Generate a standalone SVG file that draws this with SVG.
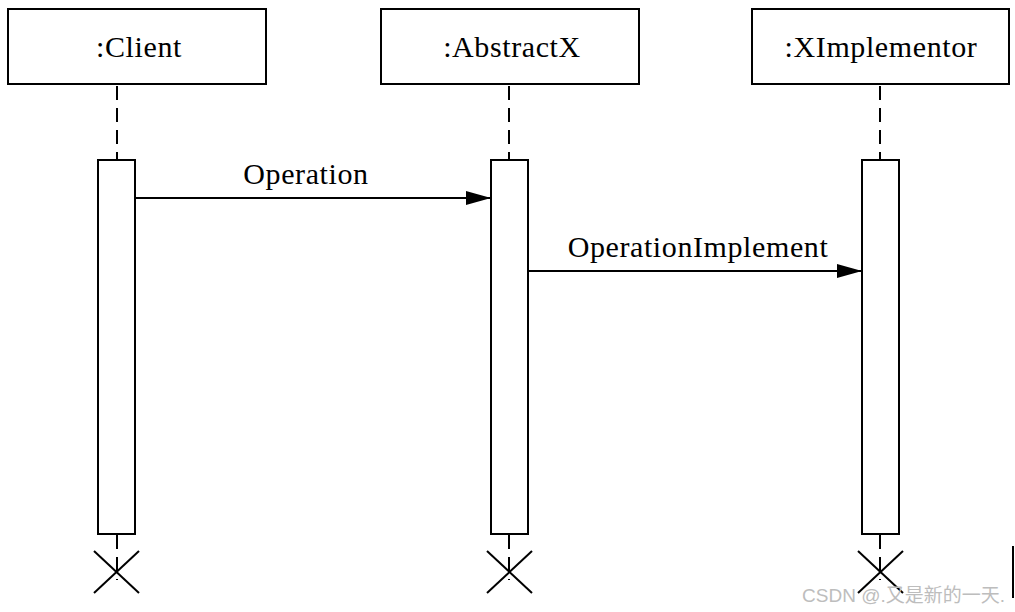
<svg xmlns="http://www.w3.org/2000/svg" width="1015" height="612" viewBox="0 0 1015 612">
<style>
.box{fill:#fff;stroke:#000;stroke-width:2}
.act{fill:#fff;stroke:#000;stroke-width:2}
.life{stroke:#000;stroke-width:2;stroke-dasharray:14 8;fill:none}
.msg{stroke:#000;stroke-width:2;fill:none;marker-end:url(#arr)}
.x{stroke:#000;stroke-width:2}
.t{font-family:"Liberation Serif","Times New Roman",serif;font-size:30px;letter-spacing:0.6px;fill:#000;text-anchor:middle}
</style>
<defs>
<marker id="arr" viewBox="0 0 25 14" refX="25" refY="7" markerWidth="25" markerHeight="14" markerUnits="userSpaceOnUse" orient="auto">
<path d="M0,0 L25,7 L0,14 Z" fill="#000"/>
</marker>
</defs>
<g id="client">
<rect class="box" x="8" y="9" width="258" height="75"/>
<text class="t" x="139" y="57">:Client</text>
<line class="life" x1="117" y1="86" x2="117" y2="160"/>
<line class="life" x1="117" y1="535" x2="117" y2="580"/>
<rect class="act" x="98" y="160" width="37" height="374"/>
<line class="x" x1="94" y1="551" x2="139" y2="593"/>
<line class="x" x1="139" y1="551" x2="94" y2="593"/>
</g>
<g id="abstractx">
<rect class="box" x="381" y="9" width="258" height="75"/>
<text class="t" x="512" y="57">:AbstractX</text>
<line class="life" x1="509" y1="86" x2="509" y2="160"/>
<line class="life" x1="509" y1="535" x2="509" y2="580"/>
<rect class="act" x="491" y="160" width="37" height="374"/>
<line class="x" x1="487" y1="551" x2="532" y2="593"/>
<line class="x" x1="532" y1="551" x2="487" y2="593"/>
</g>
<g id="ximplementor">
<rect class="box" x="752" y="9" width="257" height="75"/>
<text class="t" x="881" y="57">:XImplementor</text>
<line class="life" x1="880" y1="86" x2="880" y2="160"/>
<line class="life" x1="880" y1="535" x2="880" y2="580"/>
<rect class="act" x="862" y="160" width="37" height="374"/>
<line class="x" x1="858" y1="551" x2="903" y2="593"/>
<line class="x" x1="903" y1="551" x2="858" y2="593"/>
</g>
<g id="connectors">
<line class="msg" x1="136" y1="198" x2="491" y2="198"/>
<text class="t" x="306" y="184">Operation</text>
<line class="msg" x1="529" y1="271" x2="862" y2="271"/>
<text class="t" x="698" y="257">OperationImplement</text>
</g>
<line x1="1013" y1="546" x2="1013" y2="598" stroke="#000" stroke-width="2"/>
<text x="1005" y="602" text-anchor="end" font-family="'Liberation Sans','Noto Sans CJK SC',sans-serif" font-size="19" fill="#bdbdbd">CSDN @.又是新的一天.</text>
</svg>
